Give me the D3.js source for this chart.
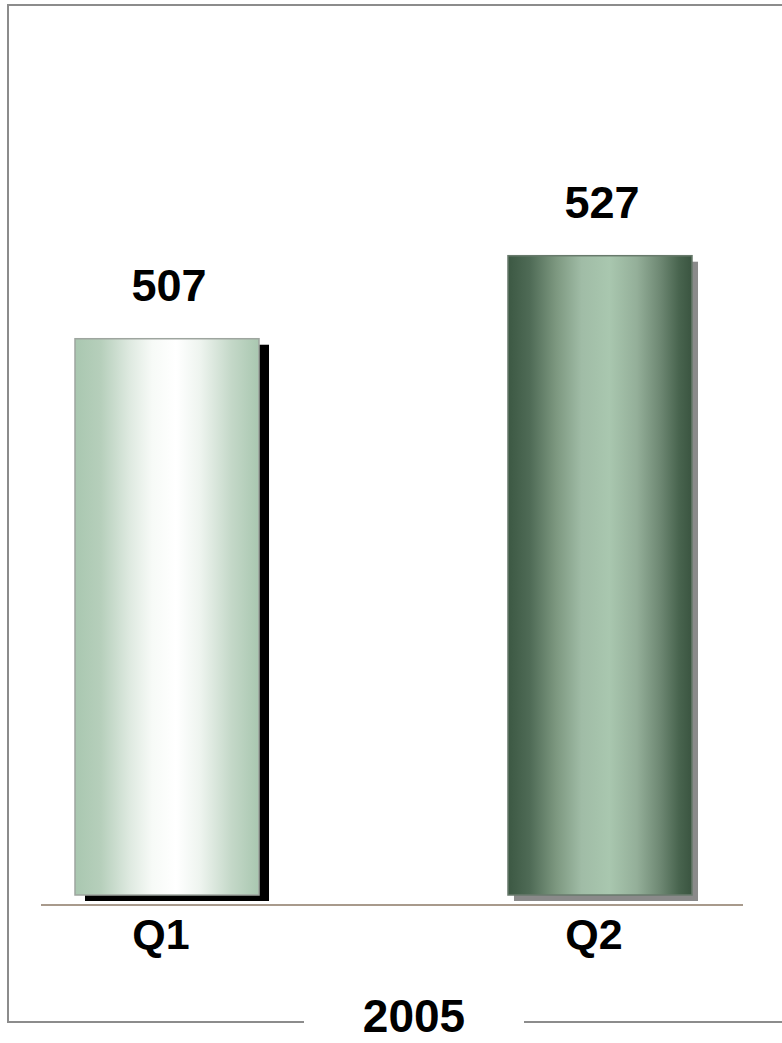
<!DOCTYPE html>
<html>
<head>
<meta charset="utf-8">
<script src="https://cdn.jsdelivr.net/npm/d3@7"></script>
<style>
  html, body { margin: 0; padding: 0; background: #fff; }
  svg { display: block; }
  text { font-family: "Liberation Sans", Arial, sans-serif; font-weight: bold; fill: #000; }
</style>
</head>
<body>
<svg id="chart" width="782" height="1043"></svg>
<script>
// Quarterly figures, 2005
const categories = ["Q1", "Q2"];
const values = [507, 527];
const yearLabel = "2005";
const valueFloor = 373;   // the value axis does not start at zero

// Per-bar styling: gradient stops, outline, shadow
const barStyles = [
  { stops: [[0, "#a9c7b0"], [0.14, "#b6cfbb"], [0.3, "#dfeae1"], [0.42, "#f7faf7"], [0.55, "#ffffff"], [0.68, "#eef4ef"], [0.85, "#c4d8c8"], [1, "#a9c7b0"]],
    outline: "#9ea59f", shadow: "#000000", dx: 10, dy: 6 },
  { stops: [[0, "#3c5843"], [0.12, "#4f6b56"], [0.26, "#7c977f"], [0.4, "#a0bca6"], [0.55, "#a9c7af"], [0.7, "#94af99"], [0.83, "#6d8772"], [0.93, "#48644e"], [1, "#3a5440"]],
    outline: "#687a6c", shadow: "#8a8a8a", dx: 6, dy: 6 }
];

const svg = d3.select("#chart");
const W = 782;

const x = d3.scaleBand()
  .domain(categories)
  .range([0, 767])
  .paddingInner(0.575)
  .paddingOuter(0.1732);

const y = d3.scaleLinear()
  .domain([valueFloor, d3.max(values)])
  .range([895, 255.7]);

const defs = svg.append("defs");
barStyles.forEach((s, i) => {
  const g = defs.append("linearGradient")
    .attr("id", "barGrad" + i)
    .attr("x1", "0%").attr("x2", "100%").attr("y1", "0%").attr("y2", "0%");
  s.stops.forEach(([o, c]) => g.append("stop").attr("offset", o).attr("stop-color", c));
});

// Frame around the plot, open on the right, broken at the bottom for the year label
const frame = svg.append("g").attr("fill", "none").attr("stroke", "#8c8c8c").attr("stroke-width", 2);
frame.append("path").attr("d", `M${W + 2},5 H8 V1022 H304`);
frame.append("path").attr("d", `M524,1022 H${W + 2}`);

const data = categories.map((c, i) => ({ cat: c, value: values[i], style: barStyles[i] }));

// Drop shadows
svg.append("g").selectAll("rect")
  .data(data)
  .join("rect")
  .attr("x", d => x(d.cat) + d.style.dx)
  .attr("y", d => y(d.value) + d.style.dy)
  .attr("width", x.bandwidth())
  .attr("height", d => y(valueFloor) - y(d.value))
  .attr("fill", d => d.style.shadow);

// Bars
svg.append("g").selectAll("rect")
  .data(data)
  .join("rect")
  .attr("x", d => x(d.cat))
  .attr("y", d => y(d.value))
  .attr("width", x.bandwidth())
  .attr("height", d => y(valueFloor) - y(d.value))
  .attr("fill", (d, i) => `url(#barGrad${i})`)
  .attr("stroke", d => d.style.outline)
  .attr("stroke-width", 1.5);

// Baseline
svg.append("line")
  .attr("x1", 41).attr("x2", 743)
  .attr("y1", 905).attr("y2", 905)
  .attr("stroke", "#a89a8c").attr("stroke-width", 2);

// Value labels
svg.append("g").selectAll("text")
  .data(data)
  .join("text")
  .attr("x", d => x(d.cat) + x.bandwidth() / 2 + 2)
  .attr("y", d => y(d.value) - 38)
  .attr("text-anchor", "middle")
  .attr("font-size", 45)
  .text(d => d.value);

// Category labels
svg.append("g").selectAll("text")
  .data(data)
  .join("text")
  .attr("x", d => x(d.cat) + x.bandwidth() / 2 - 6)
  .attr("y", 949)
  .attr("text-anchor", "middle")
  .attr("font-size", 43)
  .text(d => d.cat);

// Year label sitting in the frame gap
svg.append("text")
  .attr("x", 414)
  .attr("y", 1032)
  .attr("text-anchor", "middle")
  .attr("font-size", 46)
  .text(yearLabel);
</script>
</body>
</html>
